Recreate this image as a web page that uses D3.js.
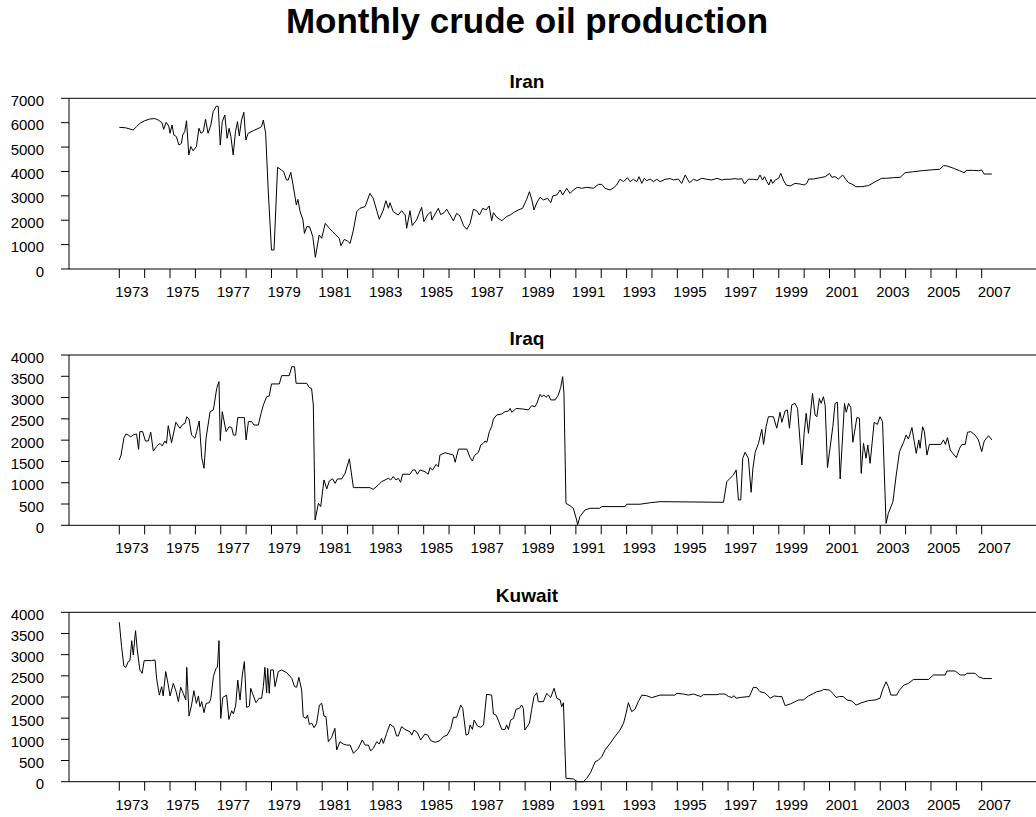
<!DOCTYPE html>
<html>
<head>
<meta charset="utf-8">
<script src="https://cdn.jsdelivr.net/npm/d3@7"></script>
<style>
  body { margin: 0; background: #fff; }
  svg { display: block; font-family: "Liberation Sans", Arial, Helvetica, sans-serif; }
</style>
</head>
<body>
<div id="chart"></div>
<script>
// values: [year (decimal), thousand barrels/day]
var iran = [
  [1973.00, 5810], [1973.25, 5790], [1973.55, 5700], [1973.68, 5840], [1973.82, 5980], [1974.00, 6080],
  [1974.20, 6150], [1974.40, 6170], [1974.55, 6100], [1974.68, 6000], [1974.75, 5730], [1974.85, 6015],
  [1974.95, 5860], [1975.00, 5565], [1975.08, 5905], [1975.15, 5495], [1975.25, 5430], [1975.35, 5085],
  [1975.45, 5150], [1975.50, 5495], [1975.58, 5630], [1975.65, 6080], [1975.74, 4675], [1975.82, 5020],
  [1975.91, 4850], [1976.04, 5020], [1976.14, 5770], [1976.22, 5565], [1976.31, 5630], [1976.40, 6140],
  [1976.50, 5565], [1976.61, 5905], [1976.70, 6450], [1976.83, 6685], [1976.90, 6660], [1976.98, 5085],
  [1977.06, 6040], [1977.16, 6315], [1977.25, 5360], [1977.33, 5770], [1977.40, 5430], [1977.49, 4675],
  [1977.58, 5630], [1977.66, 6040], [1977.73, 5455], [1977.82, 6110], [1977.91, 6425], [1977.99, 5290],
  [1978.08, 5565], [1978.28, 5670], [1978.54, 5795], [1978.61, 5840], [1978.68, 6110], [1978.77, 5565],
  [1978.87, 3240], [1979.00, 780], [1979.10, 780], [1979.24, 4170], [1979.39, 4060], [1979.48, 3990],
  [1979.59, 3650], [1979.66, 3650], [1979.76, 3965], [1979.85, 3445], [1979.98, 2625], [1980.04, 2855],
  [1980.13, 2350], [1980.24, 2010], [1980.30, 1460], [1980.39, 1735], [1980.50, 1735], [1980.63, 1325],
  [1980.73, 480], [1980.88, 1395], [1980.98, 1260], [1981.12, 1870], [1981.28, 1670], [1981.41, 1530],
  [1981.54, 1395], [1981.67, 1260], [1981.74, 955], [1981.87, 1215], [1981.99, 1150], [1982.10, 1050],
  [1982.23, 1600], [1982.36, 2350], [1982.49, 2490], [1982.69, 2560], [1982.88, 3100], [1983.01, 2900],
  [1983.25, 2040], [1983.41, 2420], [1983.51, 2800], [1983.61, 2490], [1983.67, 2720], [1983.80, 2350],
  [1984.00, 2215], [1984.13, 2390], [1984.27, 2215], [1984.33, 1670], [1984.46, 2390], [1984.55, 1780],
  [1984.72, 2010], [1984.92, 2530], [1985.01, 1940], [1985.15, 2215], [1985.28, 2350], [1985.32, 2010],
  [1985.45, 2255], [1985.58, 2490], [1985.67, 2230], [1985.80, 2310], [1985.91, 2450], [1986.04, 2215],
  [1986.17, 1980], [1986.30, 2280], [1986.43, 2175], [1986.57, 1780], [1986.70, 1625], [1986.83, 1870],
  [1986.96, 2450], [1987.09, 2390], [1987.20, 2215], [1987.33, 2490], [1987.46, 2420], [1987.58, 2585],
  [1987.68, 1980], [1987.75, 2310], [1987.88, 2120], [1988.08, 1980], [1988.27, 2150], [1988.41, 2215],
  [1988.54, 2310], [1988.73, 2420], [1988.90, 2490], [1989.06, 2855], [1989.17, 3170], [1989.26, 2855],
  [1989.35, 2420], [1989.46, 2720], [1989.59, 2940], [1989.72, 2830], [1989.88, 2900], [1990.01, 2720],
  [1990.09, 2995], [1990.25, 3035], [1990.38, 3240], [1990.48, 3035], [1990.64, 3310], [1990.77, 3100],
  [1990.90, 3240], [1991.06, 3350], [1991.23, 3310], [1991.43, 3350], [1991.69, 3310], [1991.89, 3470],
  [1992.02, 3470], [1992.15, 3310], [1992.35, 3240], [1992.51, 3350], [1992.61, 3445], [1992.74, 3680],
  [1992.88, 3580], [1993.03, 3745], [1993.14, 3580], [1993.27, 3680], [1993.40, 3580], [1993.49, 3785],
  [1993.60, 3510], [1993.70, 3720], [1993.79, 3620], [1993.93, 3690], [1994.06, 3580], [1994.19, 3680],
  [1994.32, 3580], [1994.52, 3680], [1994.72, 3705], [1994.85, 3650], [1995.04, 3690], [1995.17, 3510],
  [1995.31, 3855], [1995.48, 3540], [1995.64, 3680], [1995.77, 3620], [1995.96, 3720], [1996.16, 3680],
  [1996.36, 3650], [1996.56, 3720], [1996.75, 3650], [1996.88, 3680], [1997.08, 3680], [1997.28, 3705],
  [1997.41, 3680], [1997.54, 3705], [1997.65, 3485], [1997.80, 3680], [1998.00, 3680], [1998.16, 3650],
  [1998.26, 3855], [1998.36, 3650], [1998.44, 3785], [1998.53, 3580], [1998.61, 3445], [1998.69, 3680],
  [1998.76, 3510], [1998.86, 3650], [1998.99, 3720], [1999.08, 3920], [1999.18, 3650], [1999.29, 3445],
  [1999.45, 3405], [1999.64, 3510], [1999.84, 3485], [2000.00, 3445], [2000.10, 3510], [2000.18, 3690],
  [2000.37, 3690], [2000.63, 3745], [2000.83, 3785], [2001.00, 3920], [2001.09, 3760], [2001.22, 3785],
  [2001.35, 3690], [2001.52, 3855], [2001.64, 3680], [2001.75, 3540], [2001.88, 3485], [2002.04, 3375],
  [2002.27, 3375], [2002.54, 3420], [2002.80, 3580], [2003.06, 3720], [2003.26, 3720], [2003.52, 3745],
  [2003.79, 3760], [2003.98, 3950], [2004.31, 3990], [2004.64, 4030], [2004.97, 4060], [2005.34, 4090],
  [2005.50, 4240], [2005.63, 4225], [2005.89, 4130], [2006.13, 4030], [2006.30, 3950], [2006.41, 4045],
  [2006.68, 4045], [2006.87, 4030], [2007.00, 4060], [2007.10, 3895], [2007.20, 3895], [2007.40, 3895]
];

var iraq = [
  [1973.00, 1535], [1973.07, 1650], [1973.18, 2045], [1973.26, 2145], [1973.35, 2120], [1973.45, 2080],
  [1973.55, 2120], [1973.68, 2145], [1973.76, 1785], [1973.81, 2200], [1973.92, 2200], [1974.03, 1980],
  [1974.14, 1980], [1974.24, 2185], [1974.34, 1745], [1974.47, 1850], [1974.60, 1925], [1974.69, 1865],
  [1974.80, 1980], [1974.86, 1925], [1974.93, 2340], [1975.06, 1940], [1975.23, 2420], [1975.39, 2280],
  [1975.50, 2370], [1975.59, 2395], [1975.66, 2550], [1975.75, 2495], [1975.85, 2120], [1975.98, 2045],
  [1976.05, 2200], [1976.15, 2450], [1976.25, 1590], [1976.34, 1340], [1976.42, 2045], [1976.58, 2670],
  [1976.71, 2710], [1976.84, 3215], [1976.93, 3375], [1976.98, 1990], [1977.06, 2670], [1977.21, 2200],
  [1977.33, 2315], [1977.43, 2295], [1977.50, 2120], [1977.59, 2120], [1977.67, 2530], [1977.83, 2530],
  [1977.93, 2530], [1978.00, 2005], [1978.09, 2435], [1978.22, 2435], [1978.31, 2355], [1978.48, 2355],
  [1978.59, 2630], [1978.68, 2825], [1978.81, 3020], [1978.91, 3035], [1979.00, 3320], [1979.31, 3320],
  [1979.40, 3515], [1979.70, 3515], [1979.80, 3725], [1979.91, 3725], [1979.97, 3335], [1980.39, 3335],
  [1980.49, 3235], [1980.58, 3215], [1980.65, 2825], [1980.72, 125], [1980.85, 515], [1980.94, 440],
  [1981.07, 1065], [1981.18, 855], [1981.28, 1040], [1981.41, 1090], [1981.51, 985], [1981.60, 1090],
  [1981.77, 1090], [1981.90, 1220], [1982.07, 1560], [1982.23, 885], [1982.88, 885], [1983.01, 845],
  [1983.21, 945], [1983.34, 1025], [1983.48, 1065], [1983.61, 1105], [1983.70, 1065], [1983.80, 1145],
  [1983.91, 1065], [1984.00, 1105], [1984.09, 1010], [1984.17, 1200], [1984.46, 1200], [1984.57, 1300],
  [1984.66, 1300], [1984.75, 1200], [1984.86, 1300], [1985.05, 1260], [1985.18, 1200], [1985.25, 1355],
  [1985.35, 1300], [1985.49, 1430], [1985.58, 1375], [1985.64, 1650], [1985.84, 1705], [1986.17, 1650],
  [1986.24, 1480], [1986.37, 1790], [1986.70, 1790], [1986.83, 1590], [1986.92, 1510], [1987.00, 1635],
  [1987.16, 1715], [1987.25, 1885], [1987.35, 1925], [1987.42, 1980], [1987.49, 1950], [1987.59, 2200],
  [1987.68, 2315], [1987.75, 2495], [1987.88, 2590], [1988.08, 2615], [1988.21, 2670], [1988.34, 2685],
  [1988.41, 2745], [1988.47, 2655], [1988.54, 2685], [1988.64, 2745], [1988.93, 2730], [1989.13, 2710],
  [1989.26, 2810], [1989.39, 2785], [1989.46, 2865], [1989.59, 3075], [1989.65, 3020], [1989.74, 3060],
  [1989.82, 3005], [1989.92, 3060], [1990.01, 2945], [1990.18, 2945], [1990.31, 3060], [1990.40, 3235],
  [1990.48, 3490], [1990.53, 3100], [1990.61, 515], [1990.77, 460], [1990.90, 400], [1991.03, 125],
  [1991.07, 10], [1991.16, 205], [1991.36, 360], [1991.56, 400], [1991.93, 400], [1992.02, 440],
  [1992.94, 440], [1993.00, 495], [1993.53, 495], [1993.93, 530], [1994.32, 555], [1996.82, 540],
  [1996.95, 1025], [1997.08, 1105], [1997.21, 1180], [1997.32, 1300], [1997.41, 595], [1997.50, 595],
  [1997.58, 1575], [1997.67, 1715], [1997.80, 1575], [1997.91, 775], [1997.98, 1340], [1998.07, 1715],
  [1998.20, 1925], [1998.33, 2255], [1998.40, 1900], [1998.50, 2315], [1998.59, 2550], [1998.79, 2550],
  [1998.92, 2280], [1999.05, 2655], [1999.12, 2420], [1999.25, 2685], [1999.34, 2710], [1999.42, 2280],
  [1999.51, 2825], [1999.64, 2865], [1999.74, 2745], [1999.91, 1415], [2000.00, 2160], [2000.08, 2630],
  [2000.17, 2160], [2000.33, 3100], [2000.43, 2590], [2000.50, 2550], [2000.60, 2980], [2000.67, 2865],
  [2000.76, 3020], [2000.83, 2810], [2000.92, 1355], [2001.13, 2315], [2001.22, 2865], [2001.31, 2890],
  [2001.42, 1090], [2001.52, 2120], [2001.59, 2865], [2001.66, 2655], [2001.75, 2865], [2001.84, 2765],
  [2001.92, 1950], [2002.08, 2530], [2002.18, 2515], [2002.25, 1220], [2002.34, 1925], [2002.44, 1575],
  [2002.51, 1885], [2002.60, 1455], [2002.76, 2420], [2002.89, 2370], [2002.99, 2550], [2003.09, 2435],
  [2003.23, 45], [2003.32, 280], [2003.50, 555], [2003.63, 1180], [2003.76, 1730], [2003.92, 1950],
  [2004.02, 2120], [2004.11, 2025], [2004.25, 2295], [2004.34, 1965], [2004.42, 1690], [2004.52, 2005],
  [2004.57, 1810], [2004.67, 2315], [2004.74, 2200], [2004.84, 1650], [2004.94, 1900], [2005.39, 1900],
  [2005.49, 2005], [2005.57, 1900], [2005.65, 2060], [2005.76, 1770], [2005.86, 1690], [2006.00, 1590],
  [2006.13, 1810], [2006.22, 1900], [2006.35, 1900], [2006.44, 2185], [2006.57, 2200], [2006.74, 2120],
  [2006.87, 2005], [2007.00, 1730], [2007.10, 1980], [2007.27, 2105], [2007.40, 2005]
];

var kuwait = [
  [1973.00, 3765], [1973.09, 3190], [1973.18, 2730], [1973.26, 2700], [1973.35, 2835], [1973.42, 2860],
  [1973.49, 3330], [1973.55, 2990], [1973.64, 3565], [1973.71, 3110], [1973.81, 2640], [1973.90, 2560],
  [1973.98, 2860], [1974.27, 2860], [1974.41, 2875], [1974.47, 2440], [1974.58, 2045], [1974.67, 2245],
  [1974.73, 2025], [1974.83, 2600], [1974.93, 2285], [1975.00, 2025], [1975.13, 2320], [1975.24, 2125],
  [1975.33, 1890], [1975.42, 2230], [1975.52, 2085], [1975.62, 1930], [1975.66, 2700], [1975.75, 1550],
  [1975.85, 1810], [1975.94, 2150], [1976.04, 1850], [1976.12, 2025], [1976.18, 1770], [1976.25, 1890],
  [1976.34, 1630], [1976.42, 1850], [1976.55, 1865], [1976.61, 1970], [1976.71, 2480], [1976.81, 2675],
  [1976.87, 2700], [1976.93, 3330], [1977.00, 1495], [1977.08, 1990], [1977.23, 2045], [1977.32, 1470],
  [1977.43, 1675], [1977.50, 1600], [1977.59, 1810], [1977.67, 2400], [1977.76, 1930], [1977.85, 2520],
  [1977.93, 2835], [1978.02, 1755], [1978.13, 1785], [1978.18, 2205], [1978.29, 2025], [1978.39, 1865],
  [1978.51, 1970], [1978.61, 1970], [1978.68, 2245], [1978.74, 2700], [1978.81, 2100], [1978.85, 2675],
  [1978.91, 2085], [1978.97, 2640], [1979.07, 2640], [1979.14, 2245], [1979.27, 2600], [1979.40, 2640],
  [1979.60, 2575], [1979.80, 2440], [1979.91, 2245], [1979.99, 2230], [1980.08, 2465], [1980.19, 2165],
  [1980.25, 1535], [1980.36, 1495], [1980.42, 1575], [1980.49, 1355], [1980.59, 1380], [1980.68, 1275],
  [1980.78, 1380], [1980.89, 1810], [1980.98, 1850], [1981.07, 1550], [1981.15, 1535], [1981.24, 945],
  [1981.37, 1045], [1981.50, 1260], [1981.57, 750], [1981.70, 945], [1981.83, 890], [1981.96, 865],
  [1982.10, 865], [1982.23, 670], [1982.42, 785], [1982.58, 985], [1982.69, 865], [1982.82, 865],
  [1982.91, 730], [1983.01, 785], [1983.15, 945], [1983.25, 890], [1983.34, 1025], [1983.41, 905],
  [1983.54, 1140], [1983.67, 1360], [1983.83, 1285], [1983.93, 1080], [1984.00, 1080], [1984.13, 1300],
  [1984.26, 1235], [1984.46, 1180], [1984.53, 1100], [1984.62, 1220], [1984.75, 1160], [1984.88, 985],
  [1985.05, 1125], [1985.16, 1100], [1985.28, 970], [1985.45, 930], [1985.64, 970], [1985.78, 1065],
  [1985.93, 1100], [1986.07, 1260], [1986.17, 1520], [1986.30, 1520], [1986.46, 1810], [1986.54, 1730],
  [1986.67, 1100], [1986.76, 1125], [1986.83, 1340], [1986.92, 1235], [1986.99, 1455], [1987.12, 1315],
  [1987.25, 1285], [1987.36, 1340], [1987.48, 2065], [1987.68, 2045], [1987.75, 1600], [1987.85, 1575],
  [1987.94, 1455], [1988.08, 1235], [1988.21, 1235], [1988.27, 1340], [1988.34, 1235], [1988.43, 1455],
  [1988.54, 1495], [1988.64, 1710], [1988.77, 1730], [1988.86, 1810], [1988.93, 1730], [1988.99, 1220],
  [1989.17, 1380], [1989.26, 1710], [1989.35, 2010], [1989.46, 2100], [1989.52, 1890], [1989.72, 1890],
  [1989.85, 2085], [1990.01, 1990], [1990.14, 2205], [1990.25, 1970], [1990.38, 1930], [1990.44, 1770],
  [1990.51, 1865], [1990.61, 80], [1990.90, 65], [1991.06, 0], [1991.30, 0], [1991.43, 80],
  [1991.58, 215], [1991.76, 470], [1991.89, 510], [1992.02, 590], [1992.15, 750], [1992.35, 905],
  [1992.54, 1065], [1992.74, 1220], [1992.88, 1380], [1992.98, 1615], [1993.07, 1865], [1993.20, 1655],
  [1993.33, 1710], [1993.46, 1890], [1993.60, 2045], [1993.79, 2030], [1993.99, 1985], [1994.32, 2045],
  [1994.91, 2045], [1994.98, 2085], [1995.24, 2070], [1995.44, 2045], [1995.64, 2070], [1995.93, 2010],
  [1996.03, 2055], [1996.56, 2055], [1996.66, 2070], [1996.88, 2070], [1997.02, 2010], [1997.15, 1990],
  [1997.24, 2030], [1997.32, 1970], [1997.48, 1990], [1997.84, 2010], [1998.00, 2230], [1998.13, 2220],
  [1998.26, 2125], [1998.44, 2100], [1998.55, 2045], [1998.66, 1970], [1998.82, 2025], [1998.99, 2010],
  [1999.12, 2010], [1999.25, 1795], [1999.45, 1835], [1999.78, 1930], [1999.97, 1930], [2000.17, 2025],
  [2000.37, 2085], [2000.50, 2125], [2000.70, 2150], [2000.76, 2180], [2001.00, 2165], [2001.13, 2085],
  [2001.26, 1990], [2001.39, 2010], [2001.55, 2010], [2001.68, 1930], [2001.88, 1905], [2002.05, 1810],
  [2002.27, 1865], [2002.54, 1915], [2002.80, 1930], [2002.99, 1970], [2003.09, 2165], [2003.23, 2360],
  [2003.32, 2245], [2003.42, 2045], [2003.65, 2045], [2003.76, 2165], [2003.94, 2285], [2004.11, 2320],
  [2004.31, 2415], [2004.90, 2415], [2005.10, 2520], [2005.56, 2520], [2005.63, 2615], [2005.95, 2615],
  [2006.15, 2520], [2006.35, 2520], [2006.41, 2560], [2006.74, 2560], [2006.87, 2480], [2007.07, 2435],
  [2007.40, 2435]
];

var countries = ['Iran', 'Iraq', 'Kuwait']
var series = [iran, iraq, kuwait]
var yMax = [7000, 4000, 4000]
var yStep = [1000, 500, 500]
var years = d3.range(1973, 2008)          // one tick per year
var labelYears = years.filter(y => y % 2 == 1)  // only odd years get a label

var width = 1036, height = 817
var panelTop = [98.3, 355, 612.3]
var panelBottom = [269, 525.3, 781.7]
var axisLeft = 69

var svg = d3.select('#chart')
    .append('svg')
    .attr('width', width)
    .attr('height', height)

svg.append('text')
    .attr('x', 527)
    .attr('y', 33)
    .attr('text-anchor', 'middle')
    .attr('font-size', 35)
    .attr('font-weight', 'bold')
    .text('Monthly crude oil production')

var x = d3.scaleLinear().domain([1973, 2007]).range([119.3, 981.7])

countries.forEach((name, i) => {
    var y = d3.scaleLinear().domain([0, yMax[i]]).range([panelBottom[i], panelTop[i]])
    var g = svg.append('g')

    // panel title
    g.append('text')
        .attr('x', 527)
        .attr('y', panelTop[i] - 10)
        .attr('text-anchor', 'middle')
        .attr('font-size', 19)
        .attr('font-weight', 'bold')
        .text(name)

    // frame: top, left and bottom lines (open on the right)
    g.append('path')
        .attr('d', 'M' + width + ',' + panelTop[i] + 'H' + axisLeft + 'V' + panelBottom[i] + 'H' + width)
        .attr('fill', 'none')
        .attr('stroke', '#000')
        .attr('stroke-width', 1)

    // y axis ticks + labels
    var yTicks = d3.range(0, yMax[i] + 1, yStep[i])
    g.selectAll('.yt').data(yTicks).enter().append('line')
        .attr('x1', axisLeft - 8).attr('x2', axisLeft)
        .attr('y1', d => y(d)).attr('y2', d => y(d))
        .attr('stroke', '#000')
    g.selectAll('.yl').data(yTicks).enter().append('text')
        .attr('x', 44)
        .attr('y', d => y(d) + 7.5)
        .attr('text-anchor', 'end')
        .attr('font-size', 15)
        .text(d => d)

    // x axis ticks at every year, labels in the middle of odd years
    g.selectAll('.xt').data(years).enter().append('line')
        .attr('x1', d => x(d)).attr('x2', d => x(d))
        .attr('y1', panelBottom[i]).attr('y2', panelBottom[i] + 9)
        .attr('stroke', '#000')
    g.selectAll('.xl').data(labelYears).enter().append('text')
        .attr('x', d => x(d + 0.5))
        .attr('y', panelBottom[i] + 28)
        .attr('text-anchor', 'middle')
        .attr('font-size', 15)
        .text(d => d)

    var line = d3.line()
        .x(d => x(d[0]))
        .y(d => y(d[1]))

    g.append('path')
        .datum(series[i])
        .attr('d', line)
        .attr('fill', 'none')
        .attr('stroke', '#000')
        .attr('stroke-width', 1)
        .attr('stroke-linejoin', 'round')
})
</script>
</body>
</html>
